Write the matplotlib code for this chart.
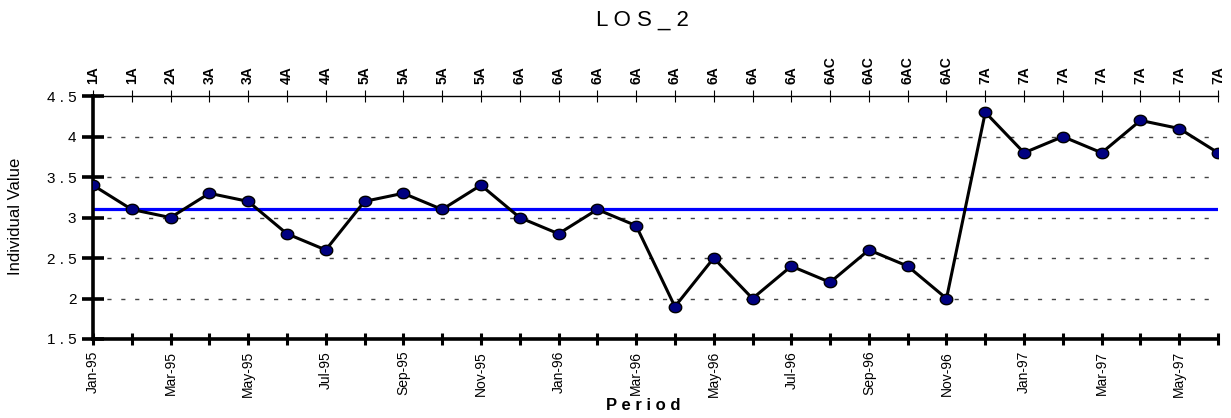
import numpy as np
import matplotlib
matplotlib.use("Agg")
import matplotlib.pyplot as plt

plt.rcParams['font.family'] = ['Liberation Sans', 'DejaVu Sans']

# monthly individual values, Jan-95 .. Jun-97
months = ['Jan-95', 'Feb-95', 'Mar-95', 'Apr-95', 'May-95', 'Jun-95', 'Jul-95', 'Aug-95',
          'Sep-95', 'Oct-95', 'Nov-95', 'Dec-95', 'Jan-96', 'Feb-96', 'Mar-96', 'Apr-96',
          'May-96', 'Jun-96', 'Jul-96', 'Aug-96', 'Sep-96', 'Oct-96', 'Nov-96', 'Dec-96',
          'Jan-97', 'Feb-97', 'Mar-97', 'Apr-97', 'May-97', 'Jun-97']
values = [3.4, 3.1, 3.0, 3.3, 3.2, 2.8, 2.6, 3.2, 3.3, 3.1, 3.4, 3.0, 2.8, 3.1, 2.9,
          1.9, 2.5, 2.0, 2.4, 2.2, 2.6, 2.4, 2.0, 4.3, 3.8, 4.0, 3.8, 4.2, 4.1, 3.8]
phases = ['1A', '1A', '2A', '3A', '3A', '4A', '4A', '5A', '5A', '5A', '5A',
          '6A', '6A', '6A', '6A', '6A', '6A', '6A', '6A',
          '6AC', '6AC', '6AC', '6AC',
          '7A', '7A', '7A', '7A', '7A', '7A', '7A']
center = 3.1
yticks = [1.5, 2, 2.5, 3, 3.5, 4, 4.5]
ylabels = ['1 . 5', '2', '2 . 5', '3', '3 . 5', '4', '4 . 5']

x = np.arange(len(values))

# slightly flattened dot like the old spreadsheet marker
t = np.linspace(0, 2 * np.pi, 40)
dot = list(zip(1.2 * np.cos(t), np.sin(t)))

fig = plt.figure(figsize=(12.31, 4.18), dpi=100)
ax = fig.add_axes([0.0755, 0.189, 0.914, 0.581])

# dotted grid
for yv in yticks[1:-1]:
    ax.axhline(yv, color='#444444', lw=1, dashes=(3, 7), zorder=1)

ax.axhline(center, color='#0000ff', lw=2.3, zorder=2)
ax.plot(x, values, color='black', lw=2.2, marker=dot, markersize=9,
        markerfacecolor='#000080', markeredgecolor='black', markeredgewidth=1, zorder=3)

ax.set_xlim(0, len(values) - 1)
ax.set_ylim(1.5, 4.5)
ax.set_yticks(yticks)
ax.set_yticklabels(ylabels, fontsize=11)
ax.set_xticks(x)
ax.set_xticklabels([m if i % 2 == 0 else '' for i, m in enumerate(months)],
                   rotation=90, fontsize=10)

ax.spines['right'].set_visible(False)
ax.spines['top'].set_linewidth(1)
ax.spines['left'].set_linewidth(2.6)
ax.spines['bottom'].set_linewidth(2.6)
ax.tick_params(axis='y', direction='inout', length=16, width=2.6, pad=4)
ax.tick_params(axis='x', direction='inout', length=9, width=2.2, pad=4)

fig.text(16 / 1231, 1 - 216 / 418, 'Individual Value', rotation=90,
         ha='center', va='center', fontsize=12)
fig.text(643 / 1231, 1 - 406 / 418, 'P e r i o d', ha='center', va='center',
         fontsize=12, fontweight='bold')

top = ax.twiny()
top.set_xlim(ax.get_xlim())
top.set_xticks(x)
top.set_xticklabels(phases, rotation=90, fontsize=10, fontweight='bold')
top.tick_params(axis='x', direction='inout', length=8, width=0.8, pad=5)
for s in top.spines.values():
    s.set_visible(False)

fig.text(642 / 1231, 1 - 20 / 418, 'L O S _ 2', ha='center', va='center', fontsize=16)

fig.savefig('out.png', dpi=100)
